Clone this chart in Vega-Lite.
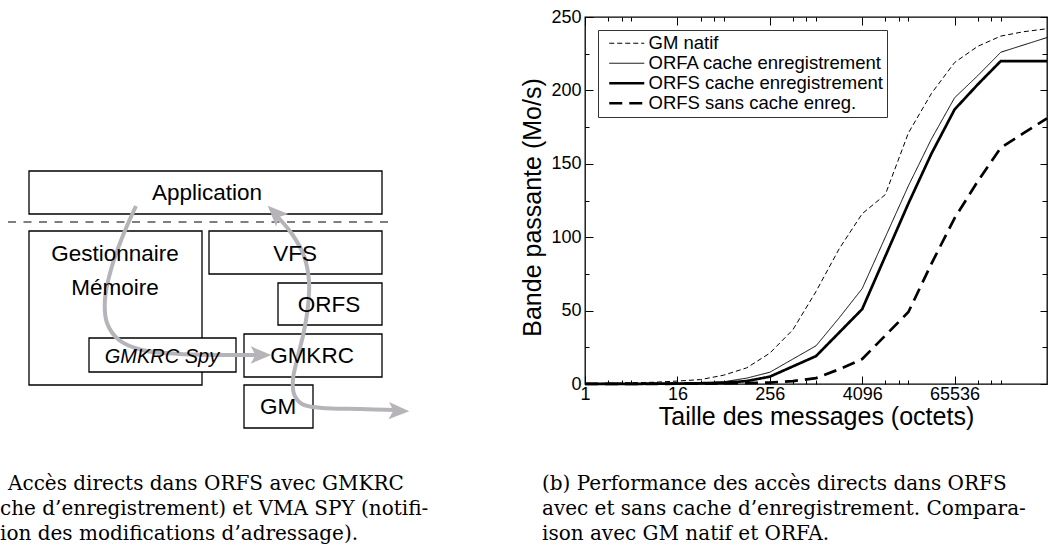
{
  "$schema": "https://vega.github.io/schema/vega-lite/v6.json",
  "padding": {"left": 0, "top": 7, "right": 0, "bottom": 0},
  "bounds": "flush",
  "spacing": 155,
  "config": {"font": "Liberation Sans"},
  "resolve": {"legend": {"strokeDash": "independent", "strokeWidth": "independent"}, "scale": {"strokeDash": "independent", "strokeWidth": "independent"}},
  "datasets": {
    "boxes": [
      {"x1": 29, "x2": 382, "y1": 170, "y2": 213},
      {"x1": 29, "x2": 202, "y1": 230, "y2": 384},
      {"x1": 209, "x2": 382, "y1": 230, "y2": 273},
      {"x1": 278, "x2": 382, "y1": 282, "y2": 324},
      {"x1": 244, "x2": 382, "y1": 333, "y2": 376},
      {"x1": 244, "x2": 313, "y1": 384, "y2": 427},
      {"x1": 89, "x2": 236, "y1": 337, "y2": 371}
    ],
    "labels": [
      {"x": 207, "y": 192, "t": "Application"},
      {"x": 115, "y": 253, "t": "Gestionnaire"},
      {"x": 115, "y": 287, "t": "Mémoire"},
      {"x": 295, "y": 253, "t": "VFS"},
      {"x": 329, "y": 304, "t": "ORFS"},
      {"x": 312, "y": 355, "t": "GMKRC"},
      {"x": 278, "y": 406, "t": "GM"}
    ],
    "spy": [{"x": 162, "y": 356, "t": "GMKRC Spy"}],
    "sep": [{"x1": 8, "x2": 395, "y": 221}],
    "paths": [
      {"p": "a", "i": 0, "x": 136, "y": 205},
      {"p": "a", "i": 1, "x": 124, "y": 232},
      {"p": "a", "i": 2, "x": 112, "y": 265},
      {"p": "a", "i": 3, "x": 105, "y": 298},
      {"p": "a", "i": 4, "x": 107, "y": 322},
      {"p": "a", "i": 5, "x": 119, "y": 339},
      {"p": "a", "i": 6, "x": 142, "y": 349},
      {"p": "a", "i": 7, "x": 180, "y": 353},
      {"p": "a", "i": 8, "x": 230, "y": 354},
      {"p": "a", "i": 9, "x": 258, "y": 354},
      {"p": "b", "i": 0, "x": 276, "y": 214},
      {"p": "b", "i": 1, "x": 292, "y": 233},
      {"p": "b", "i": 2, "x": 304, "y": 255},
      {"p": "b", "i": 3, "x": 309, "y": 280},
      {"p": "b", "i": 4, "x": 308, "y": 305},
      {"p": "b", "i": 5, "x": 304, "y": 330},
      {"p": "b", "i": 6, "x": 298, "y": 355},
      {"p": "b", "i": 7, "x": 293, "y": 378},
      {"p": "b", "i": 8, "x": 294, "y": 393},
      {"p": "b", "i": 9, "x": 302, "y": 403},
      {"p": "b", "i": 10, "x": 322, "y": 407},
      {"p": "b", "i": 11, "x": 360, "y": 408},
      {"p": "b", "i": 12, "x": 396, "y": 409}
    ],
    "heads": [
      {"x": 261, "y": 354, "a": 0},
      {"x": 275, "y": 212, "a": 225},
      {"x": 399, "y": 410, "a": 2}
    ],
    "captions": [
      {"x": 8, "y": 489, "t": "Accès directs dans ORFS avec GMKRC"},
      {"x": 0, "y": 514, "t": "che d’enregistrement) et VMA SPY (notifi-"},
      {"x": 0, "y": 539, "t": "ion des modifications d’adressage)."},
      {"x": 542, "y": 489, "t": "(b) Performance des accès directs dans ORFS"},
      {"x": 542, "y": 514, "t": "avec et sans cache d’enregistrement. Compara-"},
      {"x": 542, "y": 539, "t": "ison avec GM natif et ORFA."}
    ],
    "bw": [
      {"s": "GM natif", "n": 1, "v": 0.3}, {"s": "GM natif", "n": 2, "v": 0.5}, {"s": "GM natif", "n": 4, "v": 0.8}, {"s": "GM natif", "n": 8, "v": 1.2}, {"s": "GM natif", "n": 16, "v": 2}, {"s": "GM natif", "n": 32, "v": 3}, {"s": "GM natif", "n": 64, "v": 6}, {"s": "GM natif", "n": 128, "v": 11}, {"s": "GM natif", "n": 256, "v": 21}, {"s": "GM natif", "n": 512, "v": 37}, {"s": "GM natif", "n": 1024, "v": 63}, {"s": "GM natif", "n": 2048, "v": 92}, {"s": "GM natif", "n": 4096, "v": 116}, {"s": "GM natif", "n": 8192, "v": 129}, {"s": "GM natif", "n": 16384, "v": 171}, {"s": "GM natif", "n": 32768, "v": 198}, {"s": "GM natif", "n": 65536, "v": 219}, {"s": "GM natif", "n": 131072, "v": 230}, {"s": "GM natif", "n": 262144, "v": 237}, {"s": "GM natif", "n": 524288, "v": 240}, {"s": "GM natif", "n": 1048576, "v": 242},
      {"s": "ORFA cache enregistrement", "n": 1, "v": 0.1}, {"s": "ORFA cache enregistrement", "n": 2, "v": 0.1}, {"s": "ORFA cache enregistrement", "n": 4, "v": 0.2}, {"s": "ORFA cache enregistrement", "n": 8, "v": 0.3}, {"s": "ORFA cache enregistrement", "n": 16, "v": 0.5}, {"s": "ORFA cache enregistrement", "n": 32, "v": 0.8}, {"s": "ORFA cache enregistrement", "n": 64, "v": 1.5}, {"s": "ORFA cache enregistrement", "n": 128, "v": 4}, {"s": "ORFA cache enregistrement", "n": 256, "v": 8}, {"s": "ORFA cache enregistrement", "n": 512, "v": 17}, {"s": "ORFA cache enregistrement", "n": 1024, "v": 26}, {"s": "ORFA cache enregistrement", "n": 2048, "v": 45}, {"s": "ORFA cache enregistrement", "n": 4096, "v": 65}, {"s": "ORFA cache enregistrement", "n": 8192, "v": 100}, {"s": "ORFA cache enregistrement", "n": 16384, "v": 135}, {"s": "ORFA cache enregistrement", "n": 32768, "v": 167}, {"s": "ORFA cache enregistrement", "n": 65536, "v": 195}, {"s": "ORFA cache enregistrement", "n": 131072, "v": 210}, {"s": "ORFA cache enregistrement", "n": 262144, "v": 226}, {"s": "ORFA cache enregistrement", "n": 524288, "v": 231}, {"s": "ORFA cache enregistrement", "n": 1048576, "v": 236},
      {"s": "ORFS cache enregistrement", "n": 1, "v": 0.1}, {"s": "ORFS cache enregistrement", "n": 2, "v": 0.1}, {"s": "ORFS cache enregistrement", "n": 4, "v": 0.1}, {"s": "ORFS cache enregistrement", "n": 8, "v": 0.2}, {"s": "ORFS cache enregistrement", "n": 16, "v": 0.3}, {"s": "ORFS cache enregistrement", "n": 32, "v": 0.5}, {"s": "ORFS cache enregistrement", "n": 64, "v": 0.8}, {"s": "ORFS cache enregistrement", "n": 128, "v": 2}, {"s": "ORFS cache enregistrement", "n": 256, "v": 5}, {"s": "ORFS cache enregistrement", "n": 512, "v": 12}, {"s": "ORFS cache enregistrement", "n": 1024, "v": 19}, {"s": "ORFS cache enregistrement", "n": 2048, "v": 35}, {"s": "ORFS cache enregistrement", "n": 4096, "v": 51}, {"s": "ORFS cache enregistrement", "n": 8192, "v": 87}, {"s": "ORFS cache enregistrement", "n": 16384, "v": 123}, {"s": "ORFS cache enregistrement", "n": 32768, "v": 157}, {"s": "ORFS cache enregistrement", "n": 65536, "v": 187}, {"s": "ORFS cache enregistrement", "n": 131072, "v": 204}, {"s": "ORFS cache enregistrement", "n": 262144, "v": 220}, {"s": "ORFS cache enregistrement", "n": 524288, "v": 220}, {"s": "ORFS cache enregistrement", "n": 1048576, "v": 220},
      {"s": "ORFS sans cache enreg.", "n": 1, "v": 0.1}, {"s": "ORFS sans cache enreg.", "n": 2, "v": 0.1}, {"s": "ORFS sans cache enreg.", "n": 4, "v": 0.1}, {"s": "ORFS sans cache enreg.", "n": 8, "v": 0.1}, {"s": "ORFS sans cache enreg.", "n": 16, "v": 0.2}, {"s": "ORFS sans cache enreg.", "n": 32, "v": 0.3}, {"s": "ORFS sans cache enreg.", "n": 64, "v": 0.4}, {"s": "ORFS sans cache enreg.", "n": 128, "v": 0.6}, {"s": "ORFS sans cache enreg.", "n": 256, "v": 1}, {"s": "ORFS sans cache enreg.", "n": 512, "v": 2}, {"s": "ORFS sans cache enreg.", "n": 1024, "v": 4}, {"s": "ORFS sans cache enreg.", "n": 2048, "v": 10}, {"s": "ORFS sans cache enreg.", "n": 4096, "v": 17}, {"s": "ORFS sans cache enreg.", "n": 8192, "v": 33}, {"s": "ORFS sans cache enreg.", "n": 16384, "v": 49}, {"s": "ORFS sans cache enreg.", "n": 32768, "v": 82}, {"s": "ORFS sans cache enreg.", "n": 65536, "v": 113}, {"s": "ORFS sans cache enreg.", "n": 131072, "v": 138}, {"s": "ORFS sans cache enreg.", "n": 262144, "v": 161}, {"s": "ORFS sans cache enreg.", "n": 524288, "v": 171}, {"s": "ORFS sans cache enreg.", "n": 1048576, "v": 181}
    ]
  },
  "hconcat": [
    {
      "width": 430,
      "height": 540,
      "view": {"stroke": null},
      "layer": [
        {
          "data": {"name": "sep"},
          "mark": {"type": "rule", "color": "black", "strokeWidth": 1.2, "strokeDash": [8, 7.5]},
          "encoding": {
            "x": {"field": "x1", "type": "quantitative", "scale": {"domain": [0, 430], "nice": false, "zero": false}, "axis": null},
            "x2": {"field": "x2"},
            "y": {"field": "y", "type": "quantitative", "scale": {"domain": [16, 556], "nice": false, "zero": false, "reverse": true}, "axis": null}
          }
        },
        {
          "data": {"name": "boxes"},
          "mark": {"type": "rect", "fill": "white", "stroke": "black", "strokeWidth": 1.3},
          "encoding": {
            "x": {"field": "x1", "type": "quantitative"},
            "x2": {"field": "x2"},
            "y": {"field": "y1", "type": "quantitative"},
            "y2": {"field": "y2"}
          }
        },
        {
          "data": {"name": "paths"},
          "mark": {"type": "line", "color": "#b6b4b8", "strokeWidth": 4, "interpolate": "catmull-rom"},
          "encoding": {
            "x": {"field": "x", "type": "quantitative"},
            "y": {"field": "y", "type": "quantitative"},
            "detail": {"field": "p"},
            "order": {"field": "i", "type": "quantitative"}
          }
        },
        {
          "data": {"name": "heads"},
          "mark": {"type": "point", "filled": true, "color": "#b6b4b8", "opacity": 1, "size": 420, "shape": "M1,0L-1,-0.85L-0.55,0L-1,0.85Z"},
          "encoding": {
            "x": {"field": "x", "type": "quantitative"},
            "y": {"field": "y", "type": "quantitative"},
            "angle": {"field": "a", "type": "quantitative", "scale": null}
          }
        },
        {
          "data": {"name": "labels"},
          "mark": {"type": "text", "font": "Liberation Sans", "fontSize": 22.5, "color": "black", "baseline": "middle", "align": "center"},
          "encoding": {
            "x": {"field": "x", "type": "quantitative"},
            "y": {"field": "y", "type": "quantitative"},
            "text": {"field": "t"}
          }
        },
        {
          "data": {"name": "spy"},
          "mark": {"type": "text", "font": "Liberation Sans", "fontSize": 20, "fontStyle": "italic", "color": "black", "baseline": "middle", "align": "center"},
          "encoding": {
            "x": {"field": "x", "type": "quantitative"},
            "y": {"field": "y", "type": "quantitative"},
            "text": {"field": "t"}
          }
        },
        {
          "data": {"name": "captions"},
          "mark": {"type": "text", "font": "DejaVu Serif", "fontSize": 20, "color": "black", "baseline": "alphabetic", "align": "left"},
          "encoding": {
            "x": {"field": "x", "type": "quantitative"},
            "y": {"field": "y", "type": "quantitative"},
            "text": {"field": "t"}
          }
        }
      ]
    },
    {
      "width": 462,
      "height": 367,
      "view": {"stroke": "black", "strokeWidth": 1.3},
      "data": {"name": "bw"},
      "layer": [
        {
          "mark": {"type": "line", "color": "black", "strokeCap": "butt"},
          "encoding": {
            "x": {"field": "n", "type": "quantitative", "scale": {"type": "log", "base": 2, "domain": [1, 1048576], "nice": false},
              "axis": {"orient": "bottom", "values": [1, 16, 256, 4096, 65536], "format": "d", "tickSize": -8, "tickColor": "black", "labelPadding": 9, "labelFontSize": 18, "labelColor": "black", "labelFlush": false, "labelOverlap": false, "domain": false, "grid": false, "title": "Taille des messages (octets)", "titleFontSize": 25, "titleFontWeight": "normal", "titleColor": "black", "titlePadding": 1}},
            "y": {"field": "v", "type": "quantitative", "scale": {"domain": [0, 250], "nice": false},
              "axis": {"orient": "left", "values": [0, 50, 100, 150, 200, 250], "tickSize": -8, "tickColor": "black", "labelPadding": 12, "labelFontSize": 18, "labelColor": "black", "labelFlush": false, "labelOverlap": false, "domain": false, "grid": false, "title": "Bande passante (Mo/s)", "titleFontSize": 25, "titleFontWeight": "normal", "titleColor": "black", "titlePadding": 5, "titleY": 190}},
            "detail": {"field": "s"},
            "strokeDash": {"field": "s", "type": "nominal",
              "scale": {"type": "ordinal", "domain": ["GM natif", "ORFA cache enregistrement", "ORFS cache enregistrement", "ORFS sans cache enreg."], "range": [[5, 3], [1, 0], [1, 0], [13, 7]]},
              "legend": {"orient": "none", "legendX": 13, "legendY": 13, "title": null, "strokeColor": "#333", "fillColor": "white", "padding": 4, "labelFontSize": 18.5, "labelColor": "black", "labelLimit": 400, "symbolType": "M-1,0H16.5", "symbolSize": 16, "symbolStrokeColor": "black", "labelOffset": 28, "rowPadding": 1}},
            "strokeWidth": {"field": "s", "type": "nominal",
              "scale": {"type": "ordinal", "domain": ["GM natif", "ORFA cache enregistrement", "ORFS cache enregistrement", "ORFS sans cache enreg."], "range": [1, 1, 2.7, 2.7]},
              "legend": {"orient": "none", "legendX": 13, "legendY": 13, "title": null, "strokeColor": "#333", "fillColor": "white", "padding": 4, "labelFontSize": 18.5, "labelColor": "black", "labelLimit": 400, "symbolType": "M-1,0H16.5", "symbolSize": 16, "symbolStrokeColor": "black", "labelOffset": 28, "rowPadding": 1}}
          }
        },
        {
          "mark": {"type": "line", "opacity": 0},
          "encoding": {
            "x": {"field": "n", "type": "quantitative", "axis": {"orient": "bottom", "values": [2, 3, 4, 32, 48, 64, 512, 768, 1024, 8192, 12288, 16384, 131072, 196608, 262144], "tickSize": -4, "tickColor": "black", "labels": false, "domain": false, "grid": false, "title": null}},
            "y": {"field": "v", "type": "quantitative", "axis": {"orient": "left", "values": [25, 75, 125, 175, 225], "tickSize": -4, "tickColor": "black", "labels": false, "domain": false, "grid": false, "title": null}},
            "detail": {"field": "s"}
          }
        },
        {
          "mark": {"type": "line", "opacity": 0},
          "encoding": {
            "x": {"field": "n", "type": "quantitative", "axis": {"orient": "top", "values": [1, 16, 256, 4096, 65536], "tickSize": -8, "tickColor": "black", "labels": false, "domain": false, "grid": false, "title": null}},
            "y": {"field": "v", "type": "quantitative", "axis": {"orient": "right", "values": [0, 50, 100, 150, 200, 250], "tickSize": -7, "tickColor": "black", "labels": false, "domain": false, "grid": false, "title": null}},
            "detail": {"field": "s"}
          }
        },
        {
          "mark": {"type": "line", "opacity": 0},
          "encoding": {
            "x": {"field": "n", "type": "quantitative", "axis": {"orient": "top", "values": [2, 3, 4, 32, 48, 64, 512, 768, 1024, 8192, 12288, 16384, 131072, 196608, 262144], "tickSize": -4, "tickColor": "black", "labels": false, "domain": false, "grid": false, "title": null}},
            "y": {"field": "v", "type": "quantitative", "axis": {"orient": "right", "values": [25, 75, 125, 175, 225], "tickSize": -5, "tickColor": "black", "labels": false, "domain": false, "grid": false, "title": null}},
            "detail": {"field": "s"}
          }
        }
      ],
      "resolve": {"axis": {"x": "independent", "y": "independent"}}
    }
  ]
}
